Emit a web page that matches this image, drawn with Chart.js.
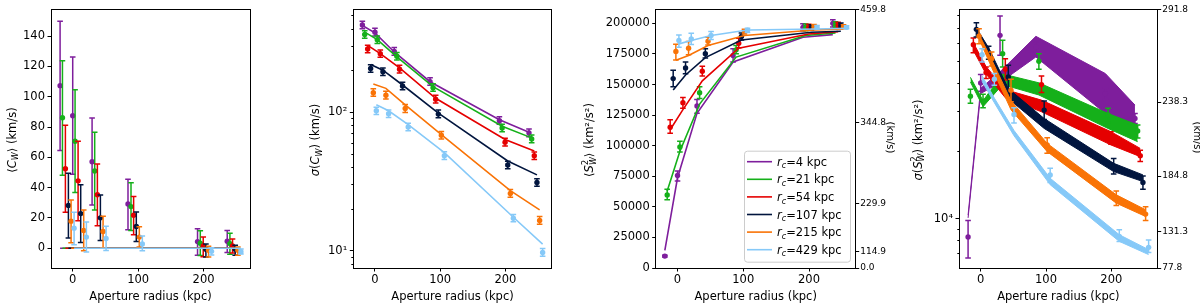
<!DOCTYPE html>
<html>
<head>
<meta charset="utf-8">
<title>aperture profiles</title>
<script src="https://cdn.jsdelivr.net/npm/chart.js@4.4.1/dist/chart.umd.min.js"></script>
<style>
  html, body { margin: 0; padding: 0; background: #fff; }
  #fig { position: relative; width: 1200px; height: 306px; overflow: hidden; }
  #fig canvas { position: absolute; top: 0; }
</style>
</head>
<body>
<div id="fig">
  <canvas id="p1" width="295" height="306" style="left:0"></canvas>
  <canvas id="p2" width="300" height="306" style="left:296px"></canvas>
  <canvas id="p3" width="325" height="306" style="left:575px"></canvas>
  <canvas id="p4" width="300" height="306" style="left:900px"></canvas>
</div>
<script>
const FONT = '"DejaVu Sans", sans-serif';
const INK = '#000';

const seriesLabels = ['4', '21', '54', '107', '215', '429'];
const seriesColors = ['#7e1e9c', '#15b01a', '#e50000', '#01153e', '#f97306', '#86c9f8'];

// aperture radius (kpc) of each measurement, every series nudged sideways
const xPurple = [-19.3, 0.0, 29.6, 84.5, 190.8, 236.2];
const xGreen  = [-15.7, 3.6, 33.6, 89.1, 195.0, 240.3];
const xRed    = [-11.2, 8.2, 37.7, 93.1, 199.5, 244.3];
const xNavy   = [-6.6, 12.2, 42.3, 97.2, 203.6, 248.4];
const xOrange = [-2.5, 16.8, 46.4, 101.8, 207.6, 252.5];
const xBlue   = [2.1, 20.9, 51.0, 106.4, 212.2, 257.1];
const apertures = [xPurple, xGreen, xRed, xNavy, xOrange, xBlue];
const xTicks = [0, 100, 200];

// panel 1: <C_W> (km/s), one row per r_c
const meanCVal = [
  [107.3, 87.4, 57.1, 29.2, 4.4, 4.6],
  [86.1, 70.6, 51.0, 27.5, 3.3, 3.1],
  [52.5, 44.5, 35.3, 21.8, 1.5, 1.5],
  [28.3, 22.9, 20.1, 14.4, -0.7, -0.7],
  [17.9, 11.8, 11.1, 7.4, -1.3, -1.3],
  [13.3, 7.4, 6.5, 2.8, -2.0, -2.2]
];
const meanCLo = [
  [64.5, 48.8, 28.6, 12.2, -4.6, -2.8],
  [48.2, 36.8, 25.3, 11.8, -4.8, -3.9],
  [23.8, 18.1, 14.8, 8.9, -5.5, -3.1],
  [6.8, 3.9, 5.2, 4.4, -5.7, -4.6],
  [3.7, -1.7, 0.4, 0.9, -5.7, -4.6],
  [2.4, -2.4, -1.5, -1.7, -4.4, -3.7]
];
const meanCHi = [
  [149.8, 126.2, 85.9, 45.6, 12.9, 11.8],
  [123.8, 104.6, 76.5, 43.2, 11.6, 10.0],
  [81.1, 70.6, 55.6, 34.2, 7.4, 6.1],
  [49.5, 41.9, 35.1, 24.0, 2.8, 2.0],
  [31.8, 25.3, 21.1, 14.2, 1.3, 0.9],
  [23.8, 17.4, 14.6, 8.1, 0.4, -0.4]
];
const meanCModel = [0, 0, 0, 0, 0, 0];
const meanCTicks = [0, 20, 40, 60, 80, 100, 120, 140];

// panel 2: sigma(C_W) (km/s)
const sigCVal = [
  [428.6, 380, 276, 166.7, 87.2, 71.1],
  [365.6, 335, 254.6, 151, 77.2, 64.4],
  [287, 265.9, 205.4, 124.6, 61, 48.6],
  [207.5, 196.6, 155.2, 97.3, 41.7, 31.2],
  [139, 133, 106.8, 68.4, 26, 16.6],
  [102.8, 97.8, 78.5, 48.7, 17.2, 9.73]
];
const sigCLo = [
  [403, 357, 259, 157, 82, 66.8],
  [344, 315, 239, 142, 72.6, 60.5],
  [270, 250, 193, 117, 57.3, 45.7],
  [195, 185, 146, 91.5, 39.2, 29.3],
  [131, 125, 100, 64.3, 24.4, 15.6],
  [96.6, 91.9, 73.8, 45.8, 16.2, 9.15]
];
const sigCHi = [
  [456, 405, 294, 178, 93, 75.8],
  [389, 357, 271, 161, 82.2, 68.6],
  [306, 283, 219, 133, 65, 51.8],
  [221, 209, 165, 104, 44.4, 33.2],
  [148, 142, 114, 72.8, 27.7, 17.7],
  [109, 104, 83.6, 51.9, 18.3, 10.4]
];
const sigCModel = [
  [424.6, 376, 273.5, 166.7, 88.6, 71.9],
  [380, 336, 251.8, 153.5, 79.4, 65.5],
  [305, 266, 210, 126.6, 63.7, 52.6],
  [222, 202, 157.8, 98.9, 44.6, 35.4],
  [160.3, 149.3, 113.5, 69.2, 27.2, 19.8],
  [113.5, 102.8, 81.6, 51.2, 17.5, 11.2]
];
const sigCMajor = [10, 100];
const sigCMinor = [8, 9, 20, 30, 40, 50, 60, 70, 80, 90, 200, 300, 400, 500];

// panel 3: <S^2_W> (km^2/s^2)
const meanSVal = [
  [9730, 75720, 132470, 173810, 196760, 200000],
  [59750, 98900, 143250, 178350, 196760, 198940],
  [115120, 135140, 160840, 183790, 196760, 198620],
  [154840, 163520, 175110, 189210, 196760, 198130],
  [177060, 179730, 185410, 193270, 197320, 197320],
  [185970, 187270, 190030, 194320, 196760, 196760]
];
const meanSLo = [
  [8900, 71100, 126470, 168390, 193800, 197000],
  [55700, 94850, 138630, 175110, 194000, 196500],
  [110250, 130520, 157030, 179970, 194300, 196300],
  [148120, 158900, 171630, 186300, 194600, 196100],
  [170000, 174300, 182410, 191300, 195600, 195800],
  [180540, 182730, 186780, 192500, 195300, 195500]
];
const meanSHi = [
  [10500, 79200, 137820, 179160, 199700, 203000],
  [64370, 103530, 148120, 181920, 199500, 201400],
  [121120, 139440, 164900, 187840, 199200, 200900],
  [161650, 168390, 179160, 192100, 198900, 200200],
  [183000, 185140, 188650, 195200, 199000, 198800],
  [190510, 191890, 193270, 196100, 198200, 198000]
];
const meanSModel = [
  [14350, 73770, 126470, 168390, 188650, 190830],
  [62990, 95420, 134000, 172430, 190030, 192130],
  [113010, 129470, 152980, 179730, 191320, 193270],
  [145440, 157840, 172000, 186460, 192700, 193510],
  [169760, 173810, 181920, 190030, 194570, 195380],
  [183220, 185970, 190030, 194570, 195380, 195950]
];
const meanSTicks = [0, 25000, 50000, 75000, 100000, 125000, 150000, 175000, 200000];
const meanSKms = [0.0, 114.9, 229.9, 344.8, 459.8];

// panel 4: sigma(S^2_W) (km^2/s^2), model shown as a band
const sigSVal = [
  [8305, 40170, 65310, 58000, 36000, 27920],
  [35080, 33340, 54150, 50120, 28910, 24550],
  [59350, 44620, 46190, 39480, 22860, 19090],
  [69430, 54700, 42710, 30410, 17060, 14500],
  [64660, 51470, 37300, 21290, 12350, 10500],
  [53600, 41720, 29080, 15680, 8364, 7476]
];
const sigSLo = [
  [6706, 36900, 53300, 55000, 34000, 26490],
  [32650, 31150, 47250, 46160, 26800, 22860],
  [54700, 41980, 41330, 36400, 21430, 17960],
  [64200, 51150, 37910, 27660, 15830, 13540],
  [59950, 47700, 33120, 19560, 11460, 9844],
  [49780, 39250, 26670, 14500, 7945, 7100]
];
const sigSHi = [
  [9844, 43730, 79500, 61000, 38000, 29380],
  [37670, 35730, 62080, 54150, 31000, 26100],
  [63560, 47250, 51470, 43140, 24380, 20180],
  [74280, 58390, 48110, 33340, 18560, 15520],
  [69900, 55080, 41720, 22950, 13290, 11310],
  [56980, 44200, 31150, 16780, 8954, 8065]
];
const sigSBandLo = [
  [10100, 36000, 40300, 52360, 29380, 26100],
  [40500, 31500, 39500, 35500, 25210, 22020],
  [56000, 44000, 34500, 29890, 21290, 18900],
  [67500, 52500, 34200, 25210, 16220, 14650],
  [63000, 47000, 30500, 19890, 11740, 10250],
  [40800, 32800, 23400, 14180, 7945, 6940]
];
const sigSBandHi = [
  [10400, 38000, 45000, 64660, 44200, 32010],
  [42500, 33500, 44000, 40200, 29380, 26100],
  [60500, 47500, 37500, 33680, 24380, 20560],
  [70500, 57500, 37900, 27920, 17650, 15680],
  [66000, 51000, 33500, 21640, 12790, 10980],
  [43200, 34400, 24700, 15150, 8508, 7302]
];
const sigSMajor = [10000];
const sigSMinor = [7000, 8000, 9000, 20000, 30000, 40000, 50000, 60000, 70000, 80000];
const sigSKms = [77.8, 131.3, 184.8, 238.3, 291.8];

const pts = (xv, yv) => xv.map((x, i) => ({ x, y: yv[i] }));

function pointSet(i, vals, lo, hi) {
  return {
    data: pts(apertures[i], vals), errLo: lo, errHi: hi,
    showLine: false, pointRadius: 2.7, pointBorderWidth: 0,
    pointBackgroundColor: seriesColors[i], borderColor: seriesColors[i],
    order: 95 - 10 * i
  };
}

function modelSet(i, vals) {
  return {
    data: pts(apertures[i], vals), borderColor: seriesColors[i], borderWidth: 1.6,
    pointRadius: 0, fill: false, tension: 0, order: 100 - 10 * i
  };
}

function bandSets(i, lo, hi) {
  const base = { borderColor: seriesColors[i], borderWidth: 1, pointRadius: 0, tension: 0, order: 100 - 10 * i };
  return [
    Object.assign({}, base, { data: pts(apertures[i], lo), fill: false }),
    Object.assign({}, base, { data: pts(apertures[i], hi), fill: '-1', backgroundColor: seriesColors[i] })
  ];
}

// error bars are drawn just before their points
const errorBars = {
  id: 'errorBars',
  beforeDatasetDraw(chart, args) {
    const ds = chart.data.datasets[args.index];
    if (!ds.errLo) return;
    const sx = chart.scales.x, sy = chart.scales.y, c = chart.ctx;
    c.save();
    c.strokeStyle = ds.borderColor;
    c.lineWidth = 1.5;
    ds.data.forEach((p, i) => {
      const x = sx.getPixelForValue(p.x);
      const y1 = sy.getPixelForValue(ds.errLo[i]);
      const y2 = sy.getPixelForValue(ds.errHi[i]);
      c.beginPath();
      c.moveTo(x, y1); c.lineTo(x, y2);
      c.moveTo(x - 2.8, y1); c.lineTo(x + 2.8, y1);
      c.moveTo(x - 2.8, y2); c.lineTo(x + 2.8, y2);
      c.stroke();
    });
    c.restore();
  }
};

function richText(c, segs, cx, cy, rot, size, align) {
  const f = (it, s) => (it ? 'italic ' : '') + s + 'px ' + FONT;
  const small = size * 0.7;
  const subW = s => {
    let w = 0;
    if (s.sup) { c.font = f(false, small); w = Math.max(w, c.measureText(s.sup).width); }
    if (s.sub) { c.font = f(s.subIt, small); w = Math.max(w, c.measureText(s.sub).width); }
    return w;
  };
  let total = 0;
  segs.forEach(s => { c.font = f(s.it, size); total += c.measureText(s.t || '').width + subW(s); });
  c.save();
  c.translate(cx, cy);
  c.rotate(rot);
  c.fillStyle = INK;
  c.textAlign = 'left';
  c.textBaseline = 'alphabetic';
  const base = size * 0.36;
  let x = align === 'left' ? 0 : -total / 2;
  segs.forEach(s => {
    c.font = f(s.it, size);
    if (s.t) { c.fillText(s.t, x, base); x += c.measureText(s.t).width; }
    if (s.sup) { c.font = f(false, small); c.fillText(s.sup, x, base - size * 0.42); }
    if (s.sub) { c.font = f(s.subIt, small); c.fillText(s.sub, x, base + size * 0.22); }
    x += subW(s);
  });
  c.restore();
}

// frame, minor ticks, axis titles and the legend
const deco = {
  id: 'deco',
  afterDraw(chart, args, o) {
    const c = chart.ctx, a = chart.chartArea;
    const al = v => Math.round(v - 0.5) + 0.5;
    c.save();
    c.strokeStyle = INK;
    c.lineWidth = 1;
    c.strokeRect(al(a.left), al(a.top), al(a.right) - al(a.left), al(a.bottom) - al(a.top));
    (o.minor || []).forEach(m => {
      const s = chart.scales[m.axis];
      m.values.forEach(v => {
        const y = al(s.getPixelForValue(v));
        c.beginPath(); c.moveTo(al(a.left), y); c.lineTo(al(a.left) - 2.2, y); c.stroke();
      });
    });
    c.restore();
    richText(c, [{ t: 'Aperture radius (kpc)' }], (a.left + a.right) / 2, 295.5, 0, 11.5);
    (o.texts || []).forEach(t => richText(c, t.segs, t.x, t.y, t.rot, t.size || 11.5));
    if (o.legend) {
      const L = o.legend;
      c.save();
      c.fillStyle = 'rgba(255,255,255,0.85)';
      c.strokeStyle = '#cccccc';
      c.lineWidth = 1;
      c.beginPath();
      c.roundRect(L.x + 0.5, L.y + 0.5, L.w, L.h, 3);
      c.fill(); c.stroke();
      seriesLabels.forEach((lab, i) => {
        const y = L.y + L.first + i * L.step;
        c.strokeStyle = seriesColors[i];
        c.lineWidth = 1.6;
        c.beginPath(); c.moveTo(L.x + 3, y); c.lineTo(L.x + 28, y); c.stroke();
        richText(c, [{ t: 'r', it: true, sub: 'c', subIt: true }, { t: '=' + lab + ' kpc' }], L.x + 33, y, 0, 11.5, 'left');
      });
      c.restore();
    }
  }
};

function axis(o) {
  return {
    type: o.type || 'linear',
    position: o.position || 'left',
    min: o.min, max: o.max, bounds: 'data',
    afterFit: s => { if (o.width) s.width = o.width; if (o.height) s.height = o.height; },
    afterBuildTicks: s => { s.ticks = o.ticks.map(v => ({ value: v })); },
    ticks: {
      font: { family: FONT, size: o.fontSize || 11.5 }, color: INK,
      padding: o.padding == null ? 2.5 : o.padding, autoSkip: false, maxRotation: 0,
      callback: o.label || (v => String(v))
    },
    grid: { drawOnChartArea: false, tickLength: 3.5, tickColor: INK, tickWidth: 1 },
    border: { color: INK, width: 1 }
  };
}

const xAxis = () => axis({ position: 'bottom', min: -33.2, max: 271, ticks: xTicks, height: 38, padding: 1.5 });

function options(o) {
  return {
    responsive: false, animation: false, events: [],
    layout: { padding: Object.assign({ left: 0, right: 0, top: 7, bottom: 0 }, o.padding), autoPadding: false },
    scales: o.scales,
    plugins: { legend: { display: false }, tooltip: { enabled: false }, deco: o.deco }
  };
}

const titleC1 = [{ t: '⟨' }, { t: 'C', it: true, sub: 'W', subIt: true }, { t: '⟩ (km/s)' }];
const titleC2 = [{ t: 'σ', it: true }, { t: '(' }, { t: 'C', it: true, sub: 'W', subIt: true }, { t: ') (km/s)' }];
const titleS3 = [{ t: '⟨' }, { t: 'S', it: true, sup: '2', sub: 'W', subIt: true }, { t: '⟩ (km²/s²)' }];
const titleS4 = [{ t: 'σ', it: true }, { t: '(' }, { t: 'S', it: true, sup: '2', sub: 'W', subIt: true }, { t: ') (km²/s²)' }];
const titleKms = [{ t: '(km/s)' }];

// panel 1
const sets1 = [];
seriesColors.forEach((col, i) => {
  sets1.push(modelSet(i, meanCModel));
  sets1.push(pointSet(i, meanCVal[i], meanCLo[i], meanCHi[i]));
});
new Chart(document.getElementById('p1'), {
  type: 'line',
  data: { datasets: sets1 },
  options: options({
    padding: { right: 45 },
    scales: { x: xAxis(), y: axis({ min: -13, max: 157.6, ticks: meanCTicks, width: 51 }) },
    deco: { texts: [{ segs: titleC1, x: 11.5, y: 140, rot: -Math.PI / 2 }] }
  }),
  plugins: [errorBars, deco]
});

// panel 2
const sets2 = [];
seriesColors.forEach((col, i) => {
  sets2.push(modelSet(i, sigCModel[i]));
  sets2.push(pointSet(i, sigCVal[i], sigCLo[i], sigCHi[i]));
});
new Chart(document.getElementById('p2'), {
  type: 'line',
  data: { datasets: sets2 },
  options: options({
    padding: { right: 44.3 },
    scales: {
      x: xAxis(),
      y: axis({ type: 'logarithmic', min: 7.52, max: 555, ticks: sigCMajor, width: 57.3,
        label: v => (v === 10 ? '10¹' : v === 100 ? '10²' : '') })
    },
    deco: { texts: [{ segs: titleC2, x: 19, y: 140, rot: -Math.PI / 2 }], minor: [{ axis: 'y', values: sigCMinor }] }
  }),
  plugins: [errorBars, deco]
});

// panel 3
const S_MAX = 459.8 * 459.8;
const sets3 = [];
seriesColors.forEach((col, i) => {
  sets3.push(modelSet(i, meanSModel[i]));
  sets3.push(pointSet(i, meanSVal[i], meanSLo[i], meanSHi[i]));
});
new Chart(document.getElementById('p3'), {
  type: 'line',
  data: { datasets: sets3 },
  options: options({
    scales: {
      x: xAxis(),
      y: axis({ min: 0, max: S_MAX, ticks: meanSTicks, width: 80.7 }),
      y2: axis({ position: 'right', min: 0, max: S_MAX, ticks: meanSKms.map(v => v * v), width: 44.3,
        fontSize: 9, padding: 1, label: (v, i) => meanSKms[i].toFixed(1) })
    },
    deco: {
      texts: [
        { segs: titleS3, x: 14, y: 140, rot: -Math.PI / 2 },
        { segs: titleKms, x: 316, y: 137.5, rot: Math.PI / 2, size: 10 }
      ],
      legend: { x: 169, y: 150.7, w: 106, h: 111, first: 11, step: 17.6 }
    }
  }),
  plugins: [errorBars, deco]
});

// panel 4
const K_MIN = 77.8 * 77.8, K_MAX = 291.8 * 291.8;
const sets4 = [];
seriesColors.forEach((col, i) => {
  bandSets(i, sigSBandLo[i], sigSBandHi[i]).forEach(d => sets4.push(d));
  sets4.push(pointSet(i, sigSVal[i], sigSLo[i], sigSHi[i]));
});
new Chart(document.getElementById('p4'), {
  type: 'line',
  data: { datasets: sets4 },
  options: options({
    scales: {
      x: xAxis(),
      y: axis({ type: 'logarithmic', min: K_MIN, max: K_MAX, ticks: sigSMajor, width: 59,
        label: v => (v === 10000 ? '10⁴' : '') }),
      y2: axis({ position: 'right', min: K_MIN, max: K_MAX, ticks: sigSKms.map(v => v * v), width: 42.3,
        fontSize: 9, padding: 1, label: (v, i) => sigSKms[i].toFixed(1) })
    },
    deco: {
      texts: [
        { segs: titleS4, x: 17.5, y: 140, rot: -Math.PI / 2 },
        { segs: titleKms, x: 297.5, y: 137.5, rot: Math.PI / 2, size: 10 }
      ],
      minor: [{ axis: 'y', values: sigSMinor }]
    }
  }),
  plugins: [errorBars, deco]
});
</script>
</body>
</html>
